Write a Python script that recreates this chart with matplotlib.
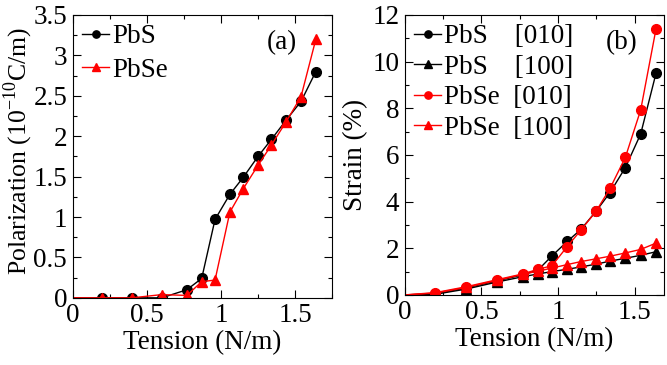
import matplotlib
matplotlib.use("Agg")
import matplotlib.pyplot as plt
from matplotlib.ticker import MultipleLocator, StrMethodFormatter

plt.rcParams['font.family'] = ['Liberation Serif', 'DejaVu Serif']
plt.rcParams['mathtext.fontset'] = 'custom'
plt.rcParams['mathtext.rm'] = 'Liberation Serif'
plt.rcParams['font.size'] = 19.5

# tension (N/m)
tension = [0, 0.2, 0.4, 0.6, 0.77, 0.87, 0.96, 1.06, 1.15, 1.25, 1.34, 1.44, 1.54, 1.64]

# polarization (10^-10 C/m)
pol_pbs = [0, 0.0, 0.0, 0.0, 0.10, 0.24, 0.97, 1.28, 1.49, 1.75, 1.96, 2.20, 2.43, 2.80]
pol_pbse = [0, 0.0, 0.0, 0.04, 0.03, 0.20, 0.22, 1.06, 1.35, 1.64, 1.89, 2.18, 2.49, 3.20]

# strain (%)
strain_pbs_010 = [0, 0.05, 0.30, 0.60, 0.86, 1.07, 1.67, 2.29, 2.81, 3.60, 4.39, 5.46, 6.90, 9.50]
strain_pbs_100 = [0, 0.03, 0.25, 0.55, 0.78, 0.90, 1.00, 1.10, 1.20, 1.32, 1.45, 1.57, 1.70, 1.85]
strain_pbse_010 = [0, 0.10, 0.35, 0.65, 0.90, 1.10, 1.25, 2.07, 2.78, 3.60, 4.57, 5.90, 7.93, 11.4]
strain_pbse_100 = [0, 0.08, 0.32, 0.62, 0.88, 1.02, 1.15, 1.30, 1.43, 1.55, 1.66, 1.80, 1.95, 2.22]

marks = list(range(1, len(tension)))

fig = plt.figure(figsize=(6.67, 3.65), dpi=100)
ax1 = fig.add_axes([0.109, 0.184, 0.389, 0.775])
ax2 = fig.add_axes([0.607, 0.192, 0.388, 0.767])

# (a) polarization
ax1.plot(tension, pol_pbs, '-o', color='black', lw=1, ms=7, markevery=marks, label='PbS')
ax1.plot(tension, pol_pbse, '-^', color='red', lw=1, ms=7, markevery=marks, label='PbSe')
ax1.set_xlim(0, 1.75)
ax1.set_ylim(0, 3.5)
ax1.yaxis.set_major_locator(MultipleLocator(0.5))
ax1.yaxis.set_minor_locator(MultipleLocator(0.25))
ax1.set_xlabel('Tension (N/m)', labelpad=1)
ax1.set_ylabel('Polarization (10$^{-10}$C/m)', fontsize=18.5)
ax1.yaxis.set_label_coords(-0.146, 0.52)
ax1.text(0.865, 0.945, '(a)', transform=ax1.transAxes, ha='right', va='top')
ax1.legend(loc='upper left', frameon=False, handlelength=1.0, handletextpad=0.1,
           markerscale=0.75, borderpad=0.15, borderaxespad=0.2, labelspacing=0.3)

# (b) strain
ax2.plot(tension, strain_pbs_010, '-o', color='black', lw=1, ms=7, markevery=marks, label='PbS    [010]')
ax2.plot(tension, strain_pbs_100, '-^', color='black', lw=1, ms=7, markevery=marks, label='PbS    [100]')
ax2.plot(tension, strain_pbse_010, '-o', color='red', lw=1, ms=7, markevery=marks, label='PbSe  [010]')
ax2.plot(tension, strain_pbse_100, '-^', color='red', lw=1, ms=7, markevery=marks, label='PbSe  [100]')
ax2.set_xlim(0, 1.69)
ax2.set_ylim(0, 12)
ax2.yaxis.set_major_locator(MultipleLocator(2))
ax2.yaxis.set_minor_locator(MultipleLocator(1))
ax2.set_xlabel('Tension (N/m)', labelpad=1)
ax2.set_ylabel('Strain (%)', labelpad=3)
ax2.text(0.9, 0.945, '(b)', transform=ax2.transAxes, ha='right', va='top')
ax2.legend(loc='upper left', frameon=False, handlelength=1.0, handletextpad=0.1,
           markerscale=0.75, borderpad=0.15, borderaxespad=0.2, labelspacing=0.2)

for ax in (ax1, ax2):
    ax.xaxis.set_major_locator(MultipleLocator(0.5))
    ax.xaxis.set_minor_locator(MultipleLocator(0.25))
    ax.xaxis.set_major_formatter(StrMethodFormatter('{x:g}'))
    ax.yaxis.set_major_formatter(StrMethodFormatter('{x:g}'))
    ax.tick_params(which='both', direction='in', top=True, right=True)
    ax.tick_params(which='major', length=6, width=0.8, pad=4)
    ax.tick_params(which='minor', length=3, width=0.8)
    for s in ax.spines.values():
        s.set_linewidth(0.8)

fig.savefig('out.png', dpi=100)
